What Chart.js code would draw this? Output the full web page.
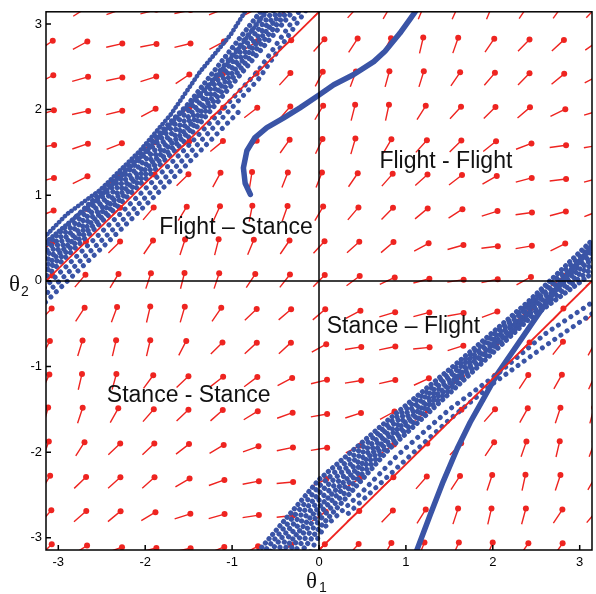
<!DOCTYPE html>
<html>
<head>
<meta charset="utf-8">
<script src="https://cdn.jsdelivr.net/npm/chart.js@4/dist/chart.umd.min.js"></script>
<style>
  html, body { margin: 0; padding: 0; background: #fff; }
  canvas { display: block; }
</style>
</head>
<body>
<canvas id="phaseChart" width="596" height="594"></canvas>
<script>
/* phase plane: theta1 vs theta2 */

const xTicks = [-3, -2, -1, 0, 1, 2, 3];
const yTicks = [-3, -2, -1, 0, 1, 2, 3];

// arrow direction in degrees on a pi/8 grid, row 0 is theta2 = -pi, col 0 is theta1 = -pi
const fieldAngles = [
  [46, 33, 20, 15, 12, 22, 28, 40, 45, 48, 60, 68, 66, 68, 56, 55, 46],
  [50, 42, 40, 31, 18, 16, 9, 6, 35, 42, 47, 58, 72, 77, 75, 57, 50],
  [60, 44, 42, 42, 31, 20, 11, 5, 27, 35, 42, 49, 57, 72, 78, 72, 60],
  [70, 58, 44, 44, 38, 31, 20, 12, 9, 27, 35, 44, 47, 57, 71, 77, 70],
  [75, 72, 61, 49, 44, 42, 32, 20, 10, 18, 29, 38, 44, 49, 61, 72, 75],
  [66, 77, 75, 54, 44, 38, 37, 28, 14, 9, 13, 25, 38, 48, 57, 61, 66],
  [62, 73, 77, 77, 63, 45, 43, 43, 29, 9, 12, 6, 18, 35, 45, 52, 62],
  [47, 57, 70, 77, 74, 56, 44, 41, 41, 28, 17, 15, 10, 21, 40, 48, 47],
  [42, 50, 59, 72, 76, 72, 57, 52, 46, 37, 25, 15, 9, 12, 29, 38, 42],
  [38, 45, 45, 56, 72, 76, 68, 56, 48, 42, 41, 29, 16, 7, 10, 27, 38],
  [22, 35, 45, 50, 59, 66, 79, 71, 60, 50, 46, 40, 33, 18, 8, 15, 22],
  [15, 27, 37, 42, 44, 62, 81, 69, 69, 56, 49, 42, 38, 30, 15, 7, 15],
  [10, 19, 22, 30, 36, 40, 44, 55, 65, 74, 60, 48, 45, 39, 21, 8, 10],
  [17, 13, 14, 29, 35, 38, 38, 49, 60, 76, 78, 58, 48, 45, 41, 26, 17],
  [28, 16, 12, 18, 34, 40, 45, 48, 63, 70, 75, 73, 56, 50, 46, 40, 28],
  [35, 29, 13, 11, 14, 28, 33, 40, 49, 57, 63, 77, 71, 56, 46, 43, 35],
  [46, 33, 20, 15, 12, 22, 28, 40, 45, 48, 60, 68, 66, 68, 56, 55, 46]
];

// anti-phase reference lines
const diagUpper = [[-3.1416, 0], [0, 3.1416]];
const diagLower = [[0, -3.1416], [3.1416, 0]];

// single transient trajectory (wraps top -> bottom)
const trajTop = [[-0.79, 1.01], [-0.85, 1.14], [-0.87, 1.32], [-0.83, 1.52], [-0.74, 1.67], [-0.6, 1.79],
  [-0.41, 1.9], [-0.22, 2.02], [0, 2.17], [0.17, 2.29], [0.4, 2.41], [0.63, 2.56], [0.76, 2.68],
  [0.93, 2.89], [1.05, 3.06], [1.12, 3.16]];
const trajSteep = [[1.12, -3.16], [1.28, -2.73], [1.43, -2.34], [1.59, -1.96], [1.74, -1.65], [1.89, -1.38],
  [2.05, -1.09], [2.3, -0.72], [2.55, -0.35], [2.8, 0.0], [3.16, 0.42]];

// flight-stance band (top left)
const tlThin = [
  [[-3.16, 0.51], [-2.9, 0.78], [-2.52, 1.06], [-2.06, 1.52], [-1.7, 1.95], [-1.37, 2.44], [-1.02, 2.87], [-0.84, 3.16]],
  [[-3.16, 0.44], [-2.5, 1.0], [-2.0, 1.5], [-1.6, 1.95], [-1.25, 2.3], [-0.91, 2.73], [-0.6, 3.16]]
];
const tlCore = [
  [[-3.16, 0.39], [-2.3, 1.24], [-1.5, 2.07], [-0.66, 3.16]],
  [[-3.16, 0.33], [-2.3, 1.17], [-1.5, 1.99], [-0.59, 3.16]],
  [[-3.16, 0.27], [-2.3, 1.11], [-1.5, 1.92], [-0.52, 3.16]],
  [[-3.16, 0.21], [-2.3, 1.05], [-1.5, 1.86], [-0.46, 3.16]],
  [[-3.16, 0.15], [-2.3, 1.0], [-1.5, 1.8], [-0.41, 3.16]],
  [[-3.16, 0.09], [-2.3, 0.94], [-1.5, 1.74], [-0.35, 3.16]],
  [[-3.16, 0.03], [-2.3, 0.89], [-1.5, 1.68], [-0.29, 3.16]]
];
const tlSparse = [
  [[-3.16, -0.08], [-2.3, 0.77], [-1.5, 1.58], [-0.7, 2.45], [-0.22, 3.16]],
  [[-3.16, -0.17], [-2.3, 0.67], [-1.5, 1.48], [-0.7, 2.35], [-0.15, 3.16]],
  [[-3.16, -0.26], [-2.3, 0.58], [-1.5, 1.38], [-0.9, 2.0]]
];

// stance-flight band (bottom right)
const brCore = [
  [[-0.7, -3.16], [0, -2.32], [0.8, -1.62], [1.6, -0.95], [2.4, -0.25], [3.16, 0.49]],
  [[-0.63, -3.16], [0, -2.4], [0.8, -1.67], [1.6, -0.99], [2.4, -0.28], [3.16, 0.43]],
  [[-0.56, -3.16], [0, -2.48], [0.8, -1.72], [1.6, -1.03], [2.4, -0.31], [3.16, 0.37]],
  [[-0.49, -3.16], [0, -2.56], [0.8, -1.77], [1.6, -1.07], [2.4, -0.34], [3.16, 0.32]],
  [[-0.42, -3.16], [0, -2.64], [0.8, -1.82], [1.6, -1.11], [2.4, -0.37], [3.16, 0.27]],
  [[-0.35, -3.16], [0, -2.72], [0.8, -1.87], [1.6, -1.14], [2.4, -0.40], [3.16, 0.21]],
  [[-0.28, -3.16], [0, -2.8], [0.8, -1.92], [1.6, -1.18], [2.4, -0.43], [3.16, 0.16]],
  [[-0.2, -3.16], [0, -2.89], [0.8, -1.97], [1.6, -1.22], [2.4, -0.46], [3.16, 0.1]]
];
const brSparse = [
  [[-0.1, -3.16], [0.05, -2.89], [0.5, -2.46], [0.9, -2.04], [1.5, -1.5], [2.05, -1.09], [2.6, -0.62], [3.16, -0.24]],
  [[0.3, -2.75], [0.9, -2.18], [1.5, -1.62], [2.0, -1.2], [2.6, -0.76], [3.16, -0.37]]
];

const regionNames = ["Flight - Flight", "Flight \u2013 Stance", "Stance \u2013 Flight", "Stance - Stance"];

/* styles & layout */
const RED = "#ee2420";
const BLUE = "#3a54a6";
const labelSpots = [[1.46, 1.315], [-0.955, 0.547], [0.972, -0.605], [-1.50, -1.408]];
const HALF = 0.095;
const coreGaps = [5.6, 6.4, 5.9, 6.8, 5.4, 6.2, 6.6, 5.8];

// build arrow segments: tail, head, gap
const step = Math.PI / 8;
const arrowData = [];
fieldAngles.forEach((row, j) => {
  row.forEach((deg, i) => {
    const cx = -Math.PI + i * step;
    const cy = -Math.PI + j * step;
    const r = deg * Math.PI / 180;
    arrowData.push({ x: cx - HALF * Math.cos(r), y: cy - HALF * Math.sin(r) });
    arrowData.push({ x: cx + HALF * Math.cos(r), y: cy + HALF * Math.sin(r) });
    arrowData.push({ x: cx, y: null });
  });
});

const toXY = pts => pts.map(p => ({ x: p[0], y: p[1] }));

function blueSet(pts, width, dash, offset) {
  return {
    data: toXY(pts),
    showLine: true,
    borderColor: BLUE,
    borderWidth: width,
    borderDash: dash,
    borderDashOffset: offset || 0,
    borderCapStyle: "round",
    borderJoinStyle: "round",
    pointRadius: 0,
    clip: 0,
    order: 2
  };
}

const datasets = [];

datasets.push({
  data: toXY(diagUpper), showLine: true, borderColor: RED, borderWidth: 1.8,
  pointRadius: 0, clip: 0, order: 1
});
datasets.push({
  data: toXY(diagLower), showLine: true, borderColor: RED, borderWidth: 1.8,
  pointRadius: 0, clip: 0, order: 1
});

datasets.push(blueSet(trajTop, 5.5, []));
datasets.push(blueSet(trajSteep, 5.5, []));
tlThin.forEach((s, k) => datasets.push(blueSet(s, 4.6, [0.01, 4.2], k * 2)));
tlCore.forEach((s, k) => datasets.push(blueSet(s, 5.2, [0.01, coreGaps[k]], k * 2.7)));
tlSparse.forEach((s, k) => datasets.push(blueSet(s, 5, [0.01, 7.5], k * 3)));
brCore.forEach((s, k) => datasets.push(blueSet(s, 5.2, [0.01, coreGaps[k]], k * 2.7)));
brSparse.forEach((s, k) => datasets.push(blueSet(s, 5, [0.01, 7.5], k * 3)));

datasets.push({
  data: arrowData,
  showLine: true,
  spanGaps: false,
  borderColor: RED,
  borderWidth: 1.4,
  pointRadius: ctx => (ctx.dataIndex % 3 === 1 ? 3 : 0),
  pointBackgroundColor: RED,
  pointBorderWidth: 0,
  clip: 0,
  order: 3
});

/* frame, zero lines, inner ticks, texts */
const framePlugin = {
  id: "frame",
  afterDatasetsDraw(chart) {
    const { ctx, chartArea: a, scales } = chart;
    const x = scales.x, y = scales.y;
    ctx.save();
    ctx.strokeStyle = "#000";
    ctx.lineWidth = 1.5;

    const x0 = x.getPixelForValue(0);
    const y0 = y.getPixelForValue(0);
    ctx.beginPath();
    ctx.moveTo(x0, a.top); ctx.lineTo(x0, a.bottom);
    ctx.moveTo(a.left, y0); ctx.lineTo(a.right, y0);
    ctx.stroke();

    ctx.strokeRect(a.left, a.top, a.right - a.left, a.bottom - a.top);

    ctx.beginPath();
    xTicks.forEach(v => {
      const px = x.getPixelForValue(v);
      ctx.moveTo(px, a.bottom); ctx.lineTo(px, a.bottom - 5);
    });
    yTicks.forEach(v => {
      const py = y.getPixelForValue(v);
      ctx.moveTo(a.left, py); ctx.lineTo(a.left + 5, py);
    });
    ctx.stroke();

    // region names
    ctx.fillStyle = "#111";
    ctx.font = '23px "Liberation Sans", Arial, sans-serif';
    ctx.textAlign = "center";
    ctx.textBaseline = "alphabetic";
    regionNames.forEach((t, k) => {
      ctx.fillText(t, x.getPixelForValue(labelSpots[k][0]), y.getPixelForValue(labelSpots[k][1]));
    });

    // axis titles
    ctx.textAlign = "left";
    ctx.font = '23px "Liberation Serif", "Times New Roman", serif';
    ctx.fillText("\u03b8", x0 - 13, 588);
    ctx.fillText("\u03b8", 9, y0 + 10);
    ctx.font = '14px "Liberation Sans", Arial, sans-serif';
    ctx.fillText("1", x0 + 0, 592);
    ctx.fillText("2", 21, y0 + 15);
    ctx.restore();
  }
};

const tickFont = { family: "Liberation Sans", size: 13 };

new Chart(document.getElementById("phaseChart"), {
  type: "scatter",
  data: { datasets: datasets },
  options: {
    responsive: false,
    animation: false,
    events: [],
    layout: { padding: { top: 10, right: 4, left: 0, bottom: 0 } },
    plugins: {
      legend: { display: false },
      tooltip: { enabled: false }
    },
    scales: {
      x: {
        type: "linear",
        min: -Math.PI,
        max: Math.PI,
        afterBuildTicks: s => { s.ticks = xTicks.map(v => ({ value: v })); },
        afterFit: s => { s.height = 44; },
        grid: { display: false, drawTicks: false },
        border: { display: false },
        ticks: { font: tickFont, color: "#000", padding: 5, maxRotation: 0, autoSkip: false, callback: v => String(v) }
      },
      y: {
        type: "linear",
        min: -Math.PI,
        max: Math.PI,
        afterBuildTicks: s => { s.ticks = yTicks.map(v => ({ value: v })); },
        afterFit: s => { s.width = 46; },
        grid: { display: false, drawTicks: false },
        border: { display: false },
        ticks: { font: tickFont, color: "#000", padding: 4, autoSkip: false, callback: v => String(v) }
      }
    }
  },
  plugins: [framePlugin]
});
</script>
</body>
</html>
